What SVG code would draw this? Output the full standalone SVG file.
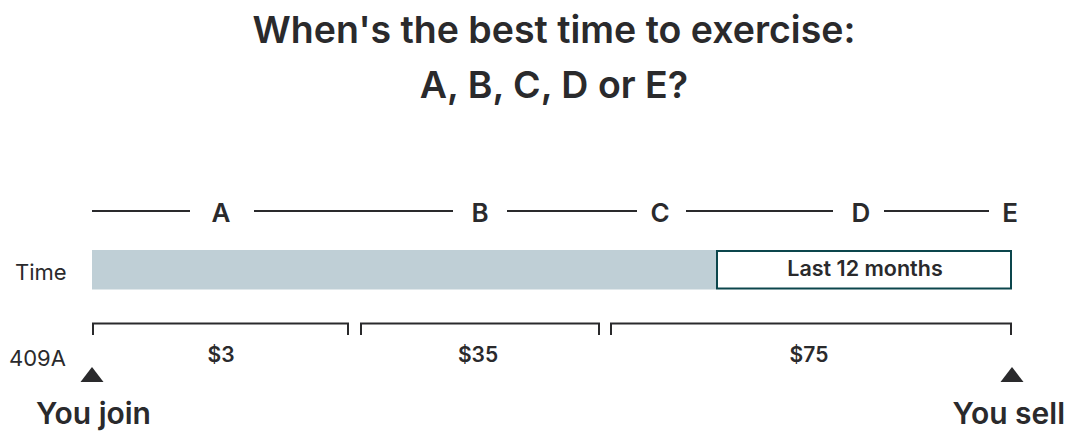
<svg xmlns="http://www.w3.org/2000/svg" width="1080" height="438" viewBox="0 0 1080 438">
<style>
text{font-family:Inter,"Liberation Sans",sans-serif;fill:#2a2a2c}
.title{font-size:37.5px;font-weight:600;text-anchor:middle}
.letter{font-size:26px;font-weight:600;text-anchor:middle}
.lbl{font-size:22px;font-weight:400}
.amt{font-size:21px;font-weight:600;text-anchor:middle}
.big{font-size:30px;font-weight:600}
.ln{stroke:#2a2a2c;stroke-width:2;fill:none}
</style>
<rect width="1080" height="438" fill="#ffffff"/>
<g id="title">
<text class="title" x="554" y="43">When's the best time to exercise:</text>
<text class="title" x="554" y="98">A, B, C, D or E?</text>
</g>
<g id="connectors">
<line class="ln" x1="92" y1="211" x2="190" y2="211"/>
<line class="ln" x1="254" y1="211" x2="453" y2="211"/>
<line class="ln" x1="507" y1="211" x2="637" y2="211"/>
<line class="ln" x1="686" y1="211" x2="833" y2="211"/>
<line class="ln" x1="884" y1="211" x2="989" y2="211"/>
<path class="ln" d="M93 335V323.5H348V335"/>
<path class="ln" d="M361 335V323.5H599V335"/>
<path class="ln" d="M611 335V323.5H1011V335"/>
</g>
<g id="letters">
<text class="letter" x="221" y="222">A</text>
<text class="letter" x="480" y="222">B</text>
<text class="letter" x="660" y="222">C</text>
<text class="letter" x="861" y="222">D</text>
<text class="letter" x="1010" y="222">E</text>
</g>
<g id="time-row">
<text class="lbl" x="15" y="280">Time</text>
<rect x="92" y="250" width="624" height="39.5" fill="#bfcfd6"/>
</g>
<g id="last12">
<rect x="717" y="251" width="294" height="37.5" fill="#ffffff" stroke="#0c464c" stroke-width="2"/>
<text x="865" y="276" style="font-size:21.5px;font-weight:600;text-anchor:middle">Last 12 months</text>
</g>
<g id="amounts">
<text class="lbl" x="9" y="366">409A</text>
<text class="amt" x="221" y="362">$3</text>
<text class="amt" x="478" y="362">$35</text>
<text class="amt" x="809" y="362">$75</text>
</g>
<g id="you-join">
<polygon points="92,367 103.5,382 80.5,382" fill="#2a2a2c"/>
<text class="big" x="36" y="424">You join</text>
</g>
<g id="you-sell">
<polygon points="1012,367 1023.5,382 1000.5,382" fill="#2a2a2c"/>
<text class="big" x="1065" y="424" text-anchor="end">You sell</text>
</g>
</svg>
